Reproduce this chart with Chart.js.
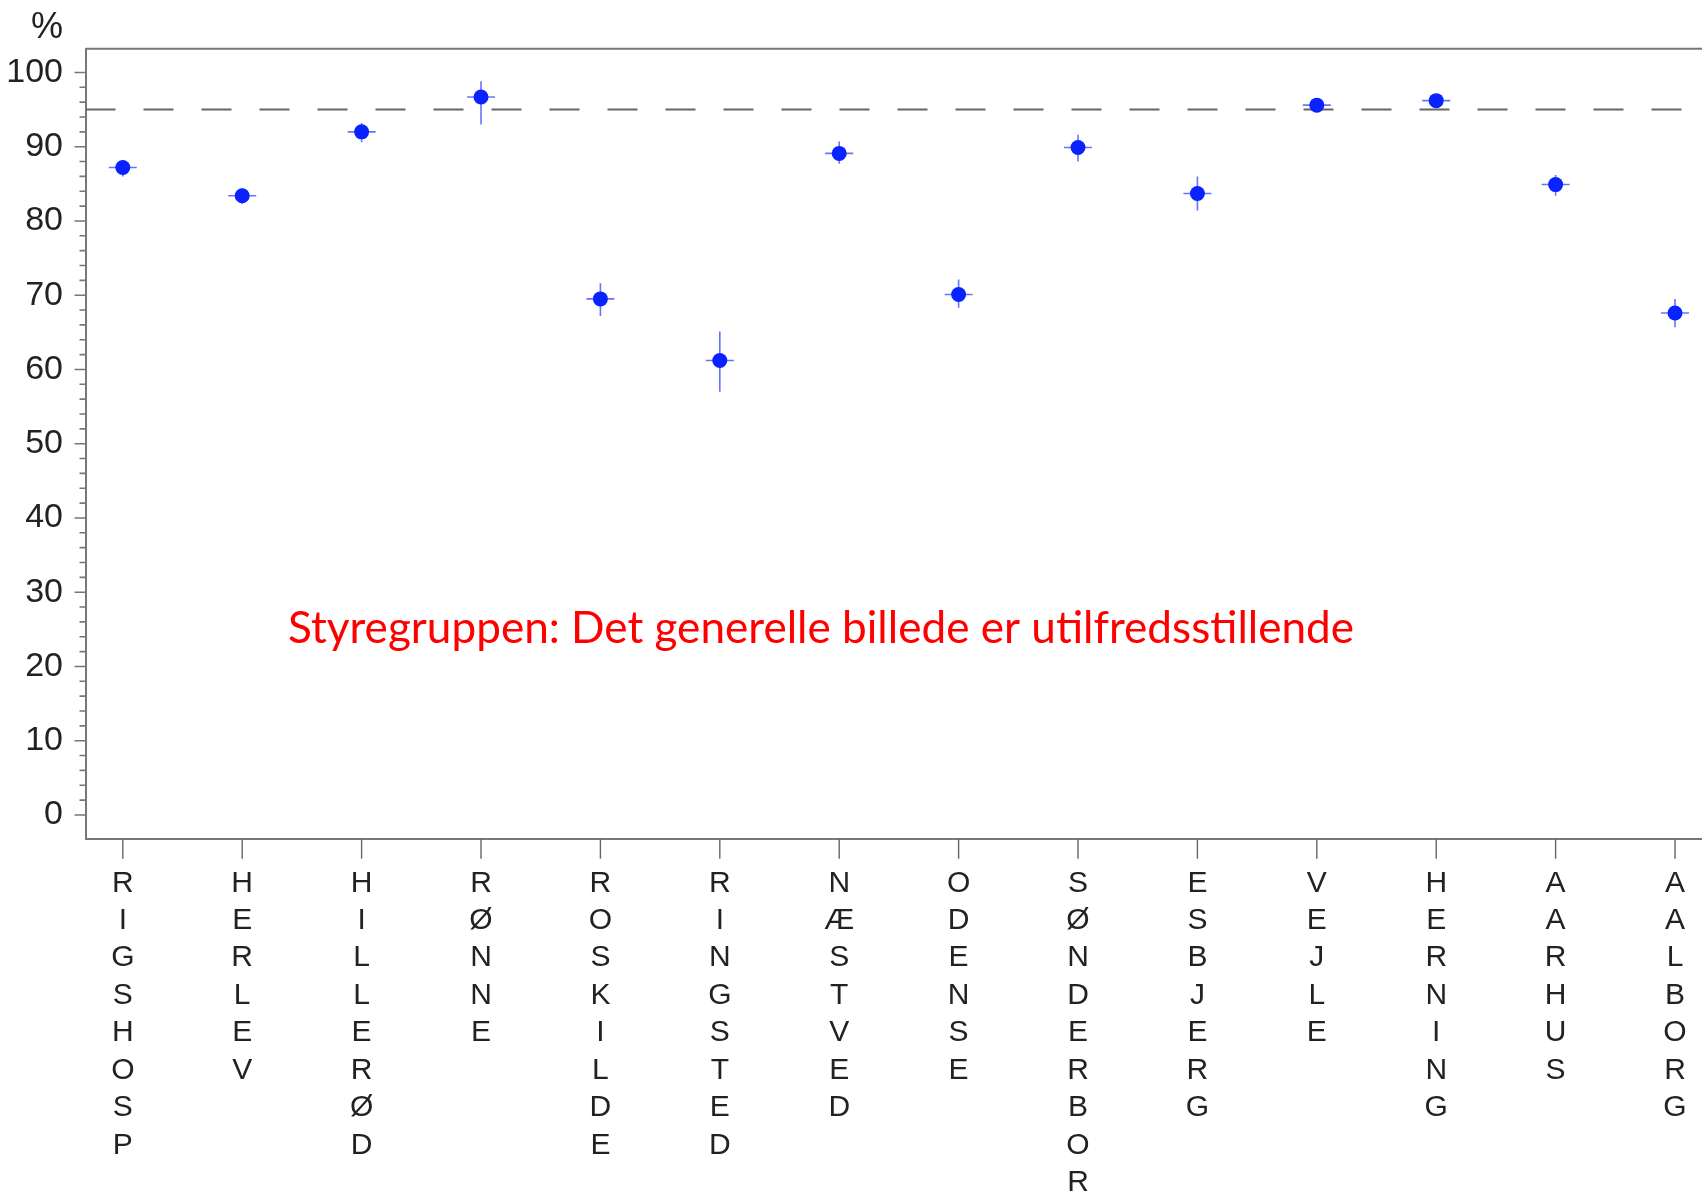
<!DOCTYPE html>
<html>
<head>
<meta charset="utf-8">
<script src="https://cdn.jsdelivr.net/npm/chart.js@4.4.1/dist/chart.umd.min.js"></script>
<style>
  html, body { margin: 0; padding: 0; background: #fff; }
  #wrap { width: 1702px; height: 1194px; }
</style>
</head>
<body>
<div id="wrap"><canvas id="chart" width="1702" height="1194"></canvas></div>
<script>
// Sygehuse og andel (%) med konfidensinterval
const hospitals = ['RIGSHOSP', 'HERLEV', 'HILLERØD', 'RØNNE', 'ROSKILDE', 'RINGSTED', 'NÆSTVED',
  'ODENSE', 'SØNDERBORG', 'ESBJERG', 'VEJLE', 'HERNING', 'AARHUS', 'AALBORG'];
const values = [87.2, 83.4, 92.0, 96.7, 69.5, 61.2, 89.1, 70.1, 89.9, 83.7, 95.6, 96.2, 84.9, 67.6];
const lower  = [86.0, 82.3, 90.6, 93.0, 67.2, 57.0, 87.7, 68.3, 88.0, 81.4, 94.8, 95.3, 83.4, 65.7];
const upper  = [88.2, 84.4, 93.2, 98.8, 71.6, 65.1, 90.7, 72.1, 91.6, 86.0, 96.5, 97.0, 86.2, 69.5];
const target = 95;
const yTicks = [0, 10, 20, 30, 40, 50, 60, 70, 80, 90, 100];
const yMinorTicks = [2, 4, 6, 8, 12, 14, 16, 18, 22, 24, 26, 28, 32, 34, 36, 38, 42, 44, 46, 48,
  52, 54, 56, 58, 62, 64, 66, 68, 72, 74, 76, 78, 82, 84, 86, 88, 92, 94, 96, 98];
const yLabel = '%';
const note = 'Styregruppen: Det generelle billede er utilfredsstillende';

const points = values.map((v, i) => ({ x: i, y: v }));

// Tegner fejlstreger, akse-ticks, topramme og tekst
const extras = {
  id: 'extras',
  beforeDatasetsDraw(chart) {
    const { ctx, scales: { x, y } } = chart;
    ctx.save();
    ctx.strokeStyle = 'rgba(50, 70, 255, 0.75)';
    ctx.lineWidth = 1.6;
    values.forEach((v, i) => {
      const px = x.getPixelForValue(i);
      const py = y.getPixelForValue(v);
      ctx.beginPath();
      ctx.moveTo(px, y.getPixelForValue(lower[i]));
      ctx.lineTo(px, y.getPixelForValue(upper[i]));
      ctx.moveTo(px - 14, py);
      ctx.lineTo(px + 14, py);
      ctx.stroke();
    });
    ctx.restore();
  },
  afterDraw(chart) {
    const { ctx, chartArea, scales: { x, y } } = chart;
    ctx.save();
    ctx.strokeStyle = '#777';
    ctx.lineWidth = 2;
    // topramme
    ctx.beginPath();
    ctx.moveTo(chartArea.left, chartArea.top);
    ctx.lineTo(chartArea.right, chartArea.top);
    ctx.stroke();
    // y ticks
    ctx.lineWidth = 1.6;
    ctx.beginPath();
    yTicks.forEach(v => {
      const py = y.getPixelForValue(v);
      ctx.moveTo(chartArea.left - 11, py);
      ctx.lineTo(chartArea.left, py);
    });
    yMinorTicks.forEach(v => {
      const py = y.getPixelForValue(v);
      ctx.moveTo(chartArea.left - 6, py);
      ctx.lineTo(chartArea.left, py);
    });
    ctx.stroke();
    // x ticks
    ctx.strokeStyle = '#666';
    ctx.lineWidth = 1.4;
    ctx.beginPath();
    hospitals.forEach((h, i) => {
      const px = x.getPixelForValue(i);
      ctx.moveTo(px, chartArea.bottom);
      ctx.lineTo(px, chartArea.bottom + 20);
    });
    ctx.stroke();
    // % label
    ctx.fillStyle = '#222';
    ctx.font = '36px "Liberation Sans Narrow", "Liberation Sans", Arial, sans-serif';
    ctx.textAlign = 'right';
    ctx.textBaseline = 'middle';
    ctx.fillText(yLabel, 63, 28);
    // rød tekst, tilpasset bredde
    ctx.fillStyle = '#ff0000';
    ctx.font = '100px Lato, "Open Sans", sans-serif';
    const w = ctx.measureText(note).width;
    const size = 100 * 1067 / w;
    ctx.font = size.toFixed(1) + 'px Lato, "Open Sans", sans-serif';
    ctx.textAlign = 'left';
    ctx.textBaseline = 'alphabetic';
    ctx.fillText(note, 288, 643);
    ctx.restore();
  }
};

new Chart(document.getElementById('chart'), {
  type: 'scatter',
  data: {
    datasets: [
      {
        data: points,
        backgroundColor: '#0a22ff',
        borderColor: '#0a22ff',
        borderWidth: 0,
        pointRadius: 7.5,
        pointHoverRadius: 7.5
      },
      {
        type: 'line',
        data: [{ x: -0.3124, y: target }, { x: 13.226, y: target }],
        borderColor: '#666',
        borderWidth: 2,
        borderDash: [30, 28],
        pointRadius: 0,
        fill: false
      }
    ]
  },
  options: {
    responsive: false,
    animation: false,
    layout: { autoPadding: false, padding: { top: 48.7, left: 0, right: 0, bottom: 0 } },
    plugins: {
      legend: { display: false },
      tooltip: { enabled: false }
    },
    scales: {
      x: {
        type: 'linear',
        min: -0.3124,
        max: 13.226,
        afterBuildTicks: scale => { scale.ticks = hospitals.map((h, i) => ({ value: i })); },
        afterFit: scale => {
          scale.height = 355.3;
          scale.paddingLeft = 0;
          scale.paddingRight = 0;
        },
        grid: { display: false, drawTicks: false },
        border: { display: true, color: '#777', width: 2 },
        ticks: {
          autoSkip: false,
          maxRotation: 0,
          padding: 26,
          color: '#222',
          font: { family: '"Liberation Sans Narrow", "Liberation Sans", Arial, sans-serif', size: 30, lineHeight: 1.247 },
          callback: (v) => hospitals[v] ? hospitals[v].split('') : ''
        }
      },
      y: {
        min: -3.2,
        max: 103.2,
        afterBuildTicks: scale => { scale.ticks = yTicks.map(v => ({ value: v })); },
        afterFit: scale => { scale.width = 85.5; },
        grid: { display: false, drawTicks: false },
        border: { display: true, color: '#777', width: 2 },
        ticks: {
          padding: 22.5,
          color: '#222',
          font: { family: '"Liberation Sans Narrow", "Liberation Sans", Arial, sans-serif', size: 34 }
        }
      }
    }
  },
  plugins: [extras]
});
</script>
</body>
</html>
